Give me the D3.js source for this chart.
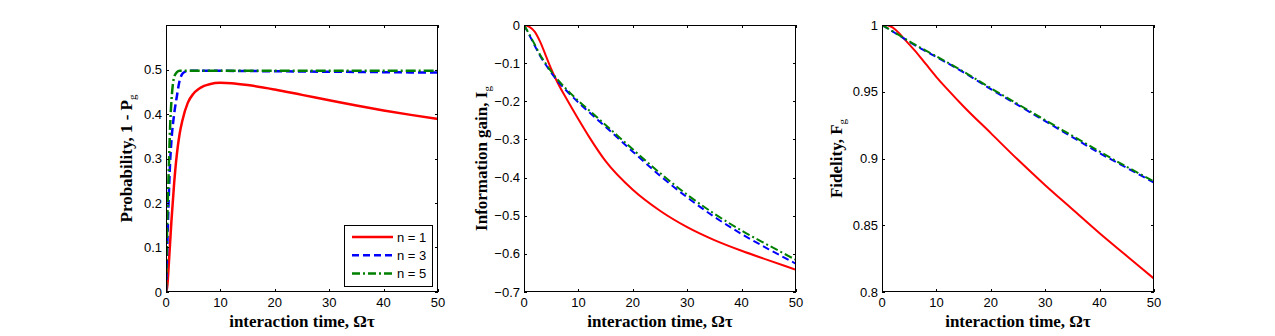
<!DOCTYPE html>
<html>
<head>
<meta charset="utf-8">
<script src="https://cdn.jsdelivr.net/npm/d3@7"></script>
<style>
  body{margin:0;background:#fff;}
  svg{display:block;}
  .tick-lbl{font-family:"Liberation Sans",Arial,sans-serif;font-size:13px;fill:#000;}
  .ax-lbl{font-family:"Liberation Serif","Times New Roman",serif;font-size:17px;font-weight:bold;fill:#000;}
  .leg-lbl{font-family:"Liberation Sans",Arial,sans-serif;font-size:13px;fill:#000;}
</style>
</head>
<body>
<svg id="chart" width="1275" height="336"></svg>
<script>
// ---- data ----
const seriesNames=["n = 1","n = 3","n = 5"];
const xTicks=[0,10,20,30,40,50];

// panel 1: probability 1 - Pg
const p1X_n1=[0,0.25,0.5,0.75,1,1.5,2,2.5,3,4,5,6,7,8,10,12,15,20,25,30,35,40,45,50];
const p1Y_n1=[0,0.015,0.06,0.11,0.16,0.245,0.31,0.355,0.385,0.425,0.445,0.456,0.463,0.467,0.470,0.469,0.465,0.455,0.443,0.431,0.419,0.408,0.398,0.389];
const p1X_n3=[0,0.1,0.25,0.5,0.75,1,1.5,2,2.5,3,3.5,4,10,20,30,40,50];
const p1Y_n3=[0,0.04,0.11,0.21,0.29,0.34,0.40,0.44,0.475,0.49,0.495,0.497,0.497,0.496,0.495,0.494,0.493];
const p1X_n5=[0,0.1,0.25,0.5,0.75,1,1.25,1.5,2,2.5,10,20,30,40,50];
const p1Y_n5=[0,0.08,0.17,0.27,0.37,0.43,0.465,0.483,0.494,0.497,0.497,0.497,0.497,0.497,0.497];
const p1YTicks=[0,0.1,0.2,0.3,0.4,0.5];

// panel 2: information gain Ig
const p2X=[0,1,2,3,4,5,6,8,10,12,15,20,25,30,35,40,45,50];
const p2Y_n1=[0,-0.005,-0.018,-0.045,-0.08,-0.115,-0.146,-0.198,-0.247,-0.294,-0.357,-0.432,-0.487,-0.53,-0.564,-0.592,-0.617,-0.642];
const p2Y_n3=[0,-0.027,-0.055,-0.082,-0.104,-0.125,-0.144,-0.175,-0.203,-0.229,-0.267,-0.332,-0.395,-0.452,-0.503,-0.548,-0.588,-0.626];
const p2Y_n5=[0,-0.025,-0.052,-0.079,-0.101,-0.122,-0.14,-0.171,-0.199,-0.224,-0.262,-0.326,-0.388,-0.445,-0.495,-0.539,-0.578,-0.616];
const p2YTicks=[0,-0.1,-0.2,-0.3,-0.4,-0.5,-0.6,-0.7];

// panel 3: fidelity Fg
const p3X=[0,1,2,3,4,5,6,8,10,12,15,20,25,30,35,40,45,50];
const p3Y_n1=[1,0.9998,0.998,0.9945,0.990,0.9855,0.981,0.971,0.961,0.952,0.939,0.919,0.899,0.880,0.862,0.844,0.827,0.810];
const p3Y_n3=[1,0.9975,0.995,0.9925,0.990,0.9875,0.985,0.9805,0.976,0.9715,0.9645,0.952,0.940,0.928,0.916,0.904,0.893,0.882];
const p3Y_n5=[1,0.9976,0.9952,0.9928,0.9903,0.9878,0.9854,0.981,0.9765,0.972,0.965,0.9527,0.9407,0.9288,0.917,0.9052,0.8938,0.8828];
const p3YTicks=[0.8,0.85,0.9,0.95,1];

const colors=["#ff0000","#0000ff","#008000"];

const svg=d3.select("#chart");
const TOP=25, H=267, W=272;

function zip(xs,ys){ return xs.map((x,i)=>[x,ys[i]]); }

function drawPanel(o){
  const g=svg.append("g");
  const x=d3.scaleLinear().domain([0,50]).range([o.left,o.left+W]);
  const y=d3.scaleLinear().domain(o.ydom).range([TOP+H,TOP]);
  const clipId="clip"+o.id;
  svg.append("clipPath").attr("id",clipId).append("rect")
    .attr("x",o.left).attr("y",TOP).attr("width",W).attr("height",H);

  const line=d3.line().x(d=>x(d[0])).y(d=>y(d[1])).curve(d3.curveMonotoneX);
  const dashes=[null,o.lw>2.2?"8,4":"7,4",o.lw>2.2?"10,3,2,3":"8,3,2,3"];
  o.series.forEach((s,i)=>{
    g.append("path").attr("clip-path",`url(#${clipId})`)
      .attr("d",line(s)).attr("fill","none").attr("stroke",colors[i])
      .attr("stroke-width",o.lw).attr("stroke-dasharray",dashes[i]);
  });

  // box
  g.append("rect").attr("x",o.left+0.5).attr("y",TOP+0.5).attr("width",W-1).attr("height",H-1)
    .attr("fill","none").attr("stroke","#000").attr("stroke-width",1);

  // ticks inward, on all sides
  const tl=3;
  const ax=g.append("g").attr("stroke","#000").attr("stroke-width",1);
  xTicks.forEach(t=>{
    const px=Math.round(x(t))+0.5;
    ax.append("line").attr("x1",px).attr("x2",px).attr("y1",TOP+H).attr("y2",TOP+H-tl);
    ax.append("line").attr("x1",px).attr("x2",px).attr("y1",TOP).attr("y2",TOP+tl);
    g.append("text").attr("class","tick-lbl").attr("x",x(t)).attr("y",TOP+H+15)
      .attr("text-anchor","middle").text(t);
  });
  o.yticks.forEach(t=>{
    const py=Math.round(y(t))+0.5;
    ax.append("line").attr("x1",o.left).attr("x2",o.left+tl).attr("y1",py).attr("y2",py);
    ax.append("line").attr("x1",o.left+W).attr("x2",o.left+W-tl).attr("y1",py).attr("y2",py);
    g.append("text").attr("class","tick-lbl").attr("x",o.left-4).attr("y",y(t)+4.5)
      .attr("text-anchor","end").text(d3.format("")(+t.toFixed(2)));
  });

  // labels
  g.append("text").attr("class","ax-lbl").attr("x",o.left+W/2).attr("y",TOP+H+35)
    .attr("text-anchor","middle").text("interaction time, \u03A9\u03C4");
  const yl=g.append("text").attr("class","ax-lbl")
    .attr("transform",`translate(${o.ylx},${TOP+H/2}) rotate(-90)`)
    .attr("text-anchor","middle");
  yl.append("tspan").text(o.ylab);
  yl.append("tspan").attr("dy",4).attr("font-size",11).attr("font-weight","normal").text("g");
  return {x,y};
}

drawPanel({id:1,left:166,ydom:[0,0.6],yticks:p1YTicks,lw:2.5,ylx:132,
  ylab:"Probability, 1 - P",
  series:[zip(p1X_n1,p1Y_n1),zip(p1X_n3,p1Y_n3),zip(p1X_n5,p1Y_n5)]});
drawPanel({id:2,left:524,ydom:[-0.7,0],yticks:p2YTicks,lw:2,ylx:487,
  ylab:"Information gain, I",
  series:[zip(p2X,p2Y_n1),zip(p2X,p2Y_n3),zip(p2X,p2Y_n5)]});
drawPanel({id:3,left:882,ydom:[0.8,1],yticks:p3YTicks,lw:2,ylx:842,
  ylab:"Fidelity, F",
  series:[zip(p3X,p3Y_n1),zip(p3X,p3Y_n3),zip(p3X,p3Y_n5)]});

// legend (panel 1)
const lg=svg.append("g");
const lx=344, ly=225, lw=88, lh=61;
lg.append("rect").attr("x",lx+0.5).attr("y",ly+0.5).attr("width",lw).attr("height",lh)
  .attr("fill","#fff").attr("stroke","#000");
const legDash=[null,"7,4","8,3,2,3"];
seriesNames.forEach((n,i)=>{
  const yy=ly+12+i*18.3;
  lg.append("line").attr("x1",lx+8).attr("x2",lx+49).attr("y1",yy).attr("y2",yy)
    .attr("stroke",colors[i]).attr("stroke-width",2.5).attr("stroke-dasharray",legDash[i]);
  lg.append("text").attr("class","leg-lbl").attr("x",lx+53).attr("y",yy+4.5).text(n);
});
</script>
</body>
</html>
